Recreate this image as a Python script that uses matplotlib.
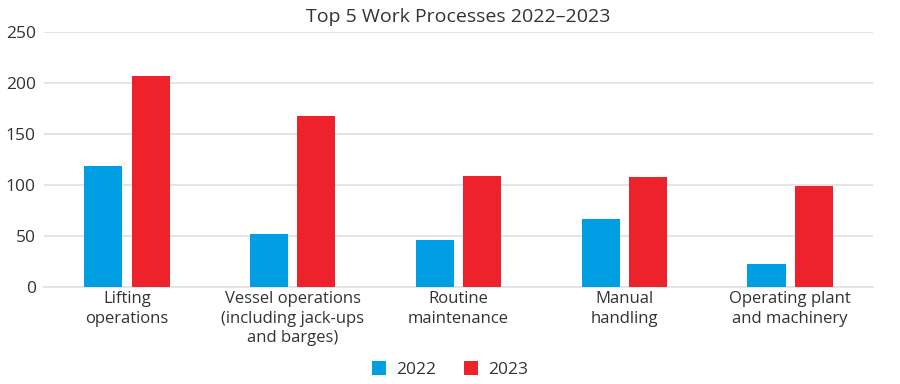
import matplotlib
matplotlib.use("Agg")
from matplotlib import pyplot as plt
import numpy as np

plt.rcParams['font.family'] = ['Open Sans', 'DejaVu Sans']

categories = ["Lifting\noperations",
              "Vessel operations\n(including jack-ups\nand barges)",
              "Routine\nmaintenance",
              "Manual\nhandling",
              "Operating plant\nand machinery"]
values_2022 = [119, 52, 46, 67, 23]
values_2023 = [207, 168, 109, 108, 99]
yticks = [0, 50, 100, 150, 200, 250]

blue = "#009fe3"
red = "#ee222b"
text_col = "#333333"

fig = plt.figure(figsize=(9, 3.84), dpi=100)
ax = fig.add_axes([0.049, 0.2526, 0.921, 0.6641])

x = np.arange(len(categories))
w = 0.23
off = 0.1425
ax.bar(x - off, values_2022, width=w, color=blue, label="2022", zorder=3)
ax.bar(x + off, values_2023, width=w, color=red, label="2023", zorder=3)

ax.set_xlim(-0.5, len(categories) - 0.5)
ax.set_ylim(0, 250)
ax.set_yticks(yticks)
ax.set_xticks(x)
ax.set_xticklabels(categories, fontsize=12, color=text_col, linespacing=1.3)
ax.tick_params(axis='y', labelsize=12.5, colors=text_col, length=0, pad=6)
ax.tick_params(axis='x', length=0, pad=3)
ax.yaxis.grid(True, color="#e3e3e6", linewidth=1.3, zorder=0)
for s in ["left", "right", "top"]:
    ax.spines[s].set_visible(False)
ax.spines["bottom"].set_color("#e3e3e6")
ax.spines["bottom"].set_linewidth(1.3)

ax.set_title("Top 5 Work Processes 2022\u20132023", fontsize=14, color=text_col, pad=7)

fig.legend(loc="lower center", ncol=2, frameon=False, fontsize=12.5,
           bbox_to_anchor=(0.5, -0.025), handlelength=0.8, handleheight=0.8,
           columnspacing=1.6, handletextpad=0.6, labelcolor=text_col)

fig.savefig("out.png", dpi=100)
